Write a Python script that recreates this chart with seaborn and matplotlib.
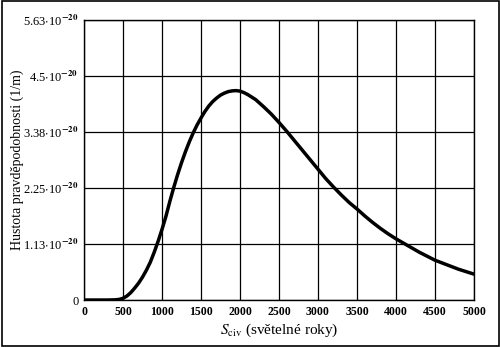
import matplotlib
matplotlib.use("Agg")
import matplotlib.pyplot as plt
import seaborn as sns
import pandas as pd
from matplotlib.patches import Rectangle

# Data (density in units of 1e-20 1/m)
distance = [0, 100, 200, 300, 400, 450, 500, 550, 600, 650, 700, 750, 800, 850, 900, 950,
            1000, 1050, 1100, 1150, 1200, 1250, 1300, 1350, 1400, 1450, 1500, 1550, 1600,
            1650, 1700, 1750, 1800, 1850, 1900, 1950, 2000, 2050, 2100, 2150, 2200, 2300,
            2400, 2500, 2600, 2700, 2800, 2900, 3000, 3100, 3200, 3300, 3400, 3500, 3600,
            3700, 3800, 3900, 4000, 4100, 4200, 4300, 4400, 4500, 4600, 4700, 4800, 4900,
            5000]
density = [0.0, 0.0, 0.0, 0.0, 0.004, 0.012, 0.035, 0.08, 0.15, 0.24, 0.34, 0.46, 0.60,
           0.76, 0.96, 1.18, 1.42, 1.68, 1.98, 2.26, 2.52, 2.76, 2.98, 3.18, 3.36, 3.52,
           3.66, 3.79, 3.90, 3.99, 4.06, 4.12, 4.16, 4.19, 4.205, 4.21, 4.20, 4.17, 4.13,
           4.08, 4.03, 3.89, 3.74, 3.57, 3.39, 3.20, 3.01, 2.82, 2.63, 2.44, 2.27, 2.11,
           1.96, 1.83, 1.69, 1.56, 1.44, 1.33, 1.23, 1.14, 1.05, 0.96, 0.88, 0.80, 0.74,
           0.68, 0.62, 0.57, 0.52]
xticks = [0, 500, 1000, 1500, 2000, 2500, 3000, 3500, 4000, 4500, 5000]
yticks = [0, 1.126, 2.252, 3.378, 4.504, 5.63]
ytick_labels = ["0", "1.13", "2.25", "3.38", "4.5", "5.63"]

df = pd.DataFrame({"x": distance, "y": density})

sns.set_theme(style="white")
plt.rcParams["font.family"] = ["Liberation Serif", "DejaVu Serif"]
plt.rcParams["mathtext.fontset"] = "stix"

fig = plt.figure(figsize=(5, 3.47), dpi=100)
ax = fig.add_axes([0.168, 0.1354, 0.78, 0.807])

sns.lineplot(data=df, x="x", y="y", ax=ax, color="black", linewidth=2.5)

ax.set_xlim(0, 5000)
ax.set_ylim(0, 5.63)
ax.set_xticks(xticks)
ax.set_xticklabels([str(t) for t in xticks], fontsize=8.5, fontweight="bold")
ax.set_yticks(yticks)
ax.set_yticklabels([l if l == "0" else l + r"$\cdot$10$^{\mathbf{-20}}$" for l in ytick_labels],
                   fontsize=9)
ax.grid(True, color="black", linewidth=0.9)
for s in ax.spines.values():
    s.set_color("black")
    s.set_linewidth(1.0)
ax.tick_params(axis="both", length=0, pad=4, colors="black")

ax.set_xlabel(r"$S_{\mathrm{civ}}$ (světelné roky)", fontsize=11, color="black", labelpad=3)
ax.set_ylabel("Hustota pravděpodobnosti (1/m)", fontsize=10, color="black")
ax.yaxis.set_label_coords(-0.155, 0.5)

fig.patches.append(Rectangle((0.003, 0.004), 0.994, 0.992, transform=fig.transFigure,
                             fill=False, edgecolor="black", linewidth=1.2))

fig.savefig("out.png", dpi=100)
